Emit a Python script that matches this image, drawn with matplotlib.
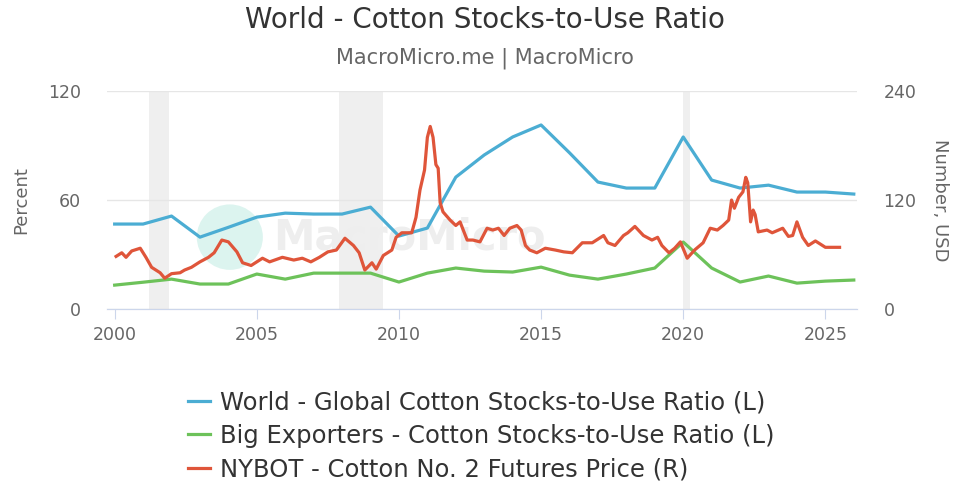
import matplotlib.pyplot as plt
from matplotlib.lines import Line2D
from matplotlib.patches import Ellipse

# Annual stocks-to-use ratios (percent)
years = list(range(2000, 2027))
world_ratio = [46.8, 46.8, 51.2, 39.6, 45.0, 50.6, 52.8, 52.3, 52.3, 56.1,
               40.2, 44.6, 72.6, 84.8, 94.7, 101.3, 86.0, 69.9, 66.6, 66.6,
               94.7, 71.0, 66.6, 68.2, 64.4, 64.4, 63.3]
exporters_ratio = [13.2, 14.8, 16.5, 13.8, 13.8, 19.3, 16.5, 19.8, 19.8, 19.8,
                   14.9, 19.8, 22.6, 20.9, 20.4, 23.1, 18.7, 16.5, 19.3, 22.6,
                   36.9, 22.6, 14.9, 18.2, 14.3, 15.4, 16.0]

# Cotton No. 2 futures price (USD cents/lb)
price_dates = [2000.05, 2000.25, 2000.4, 2000.6, 2000.9, 2001.1, 2001.3, 2001.6,
               2001.76, 2002.0, 2002.3, 2002.46, 2002.7, 2003.0, 2003.3, 2003.5,
               2003.77, 2004.0, 2004.3, 2004.5, 2004.8, 2005.2, 2005.45, 2005.9,
               2006.3, 2006.6, 2006.9, 2007.2, 2007.5, 2007.8, 2008.1, 2008.4,
               2008.6, 2008.8, 2009.05, 2009.2, 2009.45, 2009.75, 2009.9, 2010.1,
               2010.45, 2010.6, 2010.74, 2010.9, 2011.0, 2011.1, 2011.2, 2011.3,
               2011.38, 2011.45, 2011.55, 2011.8, 2012.0, 2012.15, 2012.4, 2012.6,
               2012.85, 2013.1, 2013.3, 2013.5, 2013.7, 2013.9, 2014.15, 2014.3,
               2014.45, 2014.6, 2014.85, 2015.15, 2015.5, 2015.8, 2016.1, 2016.45,
               2016.8, 2017.2, 2017.35, 2017.6, 2017.9, 2018.05, 2018.3, 2018.6,
               2018.9, 2019.1, 2019.25, 2019.5, 2019.7, 2019.9, 2020.14, 2020.4,
               2020.7, 2020.95, 2021.2, 2021.4, 2021.6, 2021.7, 2021.8, 2021.95,
               2022.1, 2022.2, 2022.27, 2022.37, 2022.46, 2022.53, 2022.64, 2022.95,
               2023.13, 2023.5, 2023.7, 2023.85, 2024.0, 2024.2, 2024.4, 2024.65,
               2025.0, 2025.3, 2025.5]
cotton_price = [58, 62, 57, 64, 67, 57, 46, 40,
                34, 39, 40, 43, 46, 52, 57, 62,
                76, 74, 63, 51, 48, 56, 52, 57,
                54, 56, 52, 57, 63, 65, 78, 70,
                62, 43, 51, 44, 59, 65, 79, 84,
                84, 101, 131, 153, 189, 201, 189, 159,
                155, 117, 107, 98, 92, 96, 76, 76,
                74, 89, 87, 89, 81, 89, 92, 87,
                70, 65, 62, 67, 65, 63, 62, 73,
                73, 81, 73, 70, 81, 84, 91, 81,
                76, 79, 70, 62, 67, 74, 56, 65,
                73, 89, 87, 92, 98, 120, 111, 123,
                129, 145, 139, 96, 109, 104, 85, 87,
                84, 89, 80, 81, 96, 79, 70, 75,
                68, 68, 68]

# Recession periods
recessions = [(2001.2, 2001.9), (2007.9, 2009.45), (2020.0, 2020.25)]

blue = "#4badd3"
green = "#6dc25a"
red = "#df553a"
grid_c = "#e6e6e6"
text_c = "#666666"

fig = plt.figure(figsize=(9.7, 4.83), dpi=100)
ax = fig.add_axes([0.110, 0.360, 0.774, 0.4516])
ax2 = ax.twinx()

for start, end in recessions:
    ax.axvspan(start, end, color="#efefef", zorder=0, lw=0)

# Faint watermark
ax.add_patch(Ellipse((0.164, 0.33), 0.088, 0.30, transform=ax.transAxes,
                     color="#dcf4ef", zorder=0.5, lw=0))
ax.text(0.222, 0.33, "MacroMicro", transform=ax.transAxes, fontsize=30,
        color="#eeeeee", fontweight="bold", va="center", zorder=0.6)

ax.plot(years, world_ratio, color=blue, lw=2.3, zorder=3)
ax.plot(years, exporters_ratio, color=green, lw=2.3, zorder=3)
ax2.plot(price_dates, cotton_price, color=red, lw=2.3, zorder=3)

ax.set_xlim(1999.72, 2026.13)
ax.set_ylim(0, 120)
ax2.set_ylim(0, 240)
ax.set_yticks([0, 60, 120])
ax2.set_yticks([0, 120, 240])
ax.set_xticks(range(2000, 2026, 5))

ax.grid(axis="y", color=grid_c, lw=1)
ax.set_axisbelow(True)
for a in (ax, ax2):
    for side in ("top", "left", "right"):
        a.spines[side].set_visible(False)
    a.spines["bottom"].set_color("#ccd6eb")
ax.tick_params(axis="y", length=0, labelsize=12.5, labelcolor=text_c, pad=18.7)
ax2.tick_params(axis="y", length=0, labelsize=12.5, labelcolor=text_c, pad=18.7)
ax.tick_params(axis="x", length=7, color="#ccd6eb", labelsize=12.5,
               labelcolor=text_c, pad=5)
ax.set_ylabel("Percent", color=text_c, fontsize=13, labelpad=12.5)
ax2.set_ylabel("Number, USD", color=text_c, fontsize=13, rotation=270,
               labelpad=23.5)

fig.text(0.5, 0.958, "World - Cotton Stocks-to-Use Ratio", ha="center",
         va="center", fontsize=20, color="#333333")
fig.text(0.5, 0.88, "MacroMicro.me | MacroMicro", ha="center", va="center",
         fontsize=15, color=text_c)

handles = [Line2D([], [], color=blue, lw=2.3),
           Line2D([], [], color=green, lw=2.3),
           Line2D([], [], color=red, lw=2.3)]
labels = ["World - Global Cotton Stocks-to-Use Ratio (L)",
          "Big Exporters - Cotton Stocks-to-Use Ratio (L)",
          "NYBOT - Cotton No. 2 Futures Price (R)"]
leg = fig.legend(handles, labels, loc="upper left", bbox_to_anchor=(0.194, 0.192),
                 frameon=False, fontsize=17.5, handlelength=0.9,
                 handletextpad=0.4, labelspacing=0.4, borderaxespad=0,
                 borderpad=0)
for t in leg.get_texts():
    t.set_color("#333333")

fig.savefig("out.png", dpi=100)
